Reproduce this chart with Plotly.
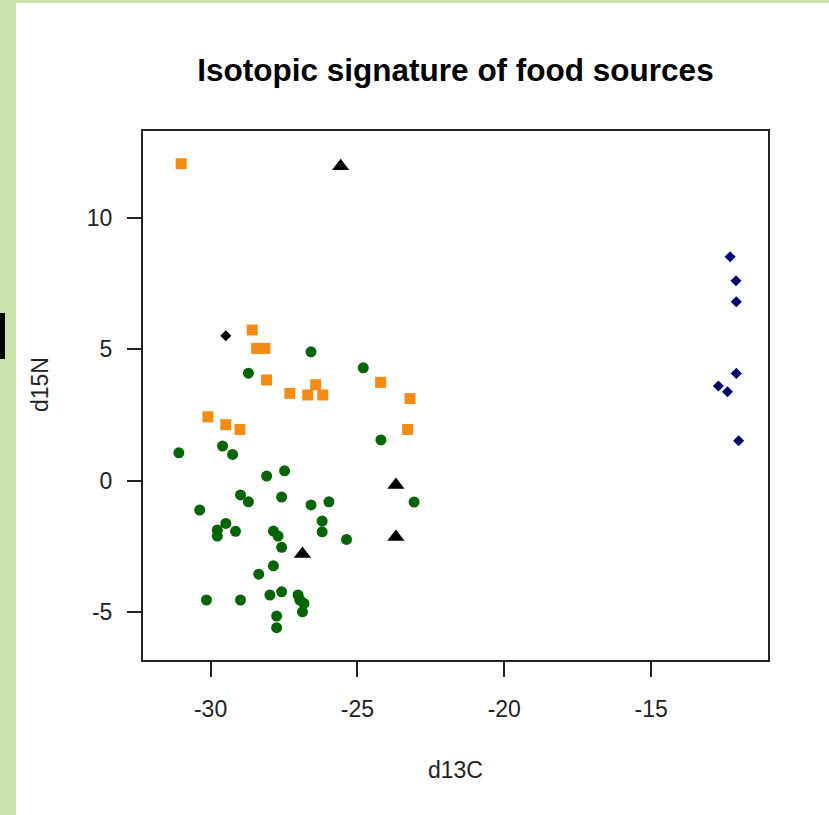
import plotly.graph_objects as go

# d13C / d15N values per food-source group
orange_d13c = [-31.0, -28.58, -28.43, -28.15, -28.09, -27.30, -26.42, -26.69, -26.18,
               -24.21, -23.21, -30.09, -29.48, -29.0, -23.29]
orange_d15n = [12.05, 5.73, 5.03, 5.03, 3.83, 3.32, 3.65, 3.26, 3.26,
               3.74, 3.12, 2.43, 2.13, 1.95, 1.95]

green_d13c = [-26.58, -28.71, -24.80, -24.20, -31.08, -29.59, -29.25, -28.09, -27.48,
              -28.98, -28.71, -27.58, -26.58, -25.97, -23.07, -30.37, -29.48, -29.77,
              -29.77, -29.15, -26.20, -26.20, -27.86, -27.70, -27.58, -25.37, -27.86,
              -28.36, -30.14, -28.98, -27.98, -27.58, -27.02, -26.96, -26.82, -26.87,
              -27.75, -27.75]
green_d15n = [4.90, 4.09, 4.29, 1.55, 1.06, 1.32, 1.00, 0.18, 0.38,
              -0.54, -0.80, -0.62, -0.92, -0.80, -0.81, -1.11, -1.62, -1.87,
              -2.10, -1.92, -1.53, -1.94, -1.91, -2.10, -2.53, -2.23, -3.23,
              -3.55, -4.53, -4.53, -4.34, -4.22, -4.34, -4.53, -4.66, -4.98,
              -5.14, -5.58]

tri_d13c = [-25.57, -23.69, -23.69, -26.87]
tri_d15n = [11.95, -0.16, -2.14, -2.78]

dia_d13c = [-29.48]
dia_d15n = [5.51]

blue_d13c = [-12.31, -12.11, -12.10, -12.10, -12.71, -12.40, -12.02]
blue_d15n = [8.51, 7.60, 6.80, 4.08, 3.60, 3.38, 1.52]

x_ticks = [-30, -25, -20, -15]
x_labels = ["-30", "-25", "-20", "-15"]
y_ticks = [-5, 0, 5, 10]
y_labels = ["-5", "0", "5", "10"]

W, H = 829, 815
ML, MR, MT, MB = 143, 61, 131, 155
PW, PH = W - ML - MR, H - MT - MB


def px(p):
    return (p - ML) / PW


def py(p):
    return (H - MB - p) / PH


fig = go.Figure()

fig.add_trace(go.Scatter(x=green_d13c, y=green_d15n, mode="markers",
                         marker=dict(symbol="circle", size=11, color="#056405")))
fig.add_trace(go.Scatter(x=orange_d13c, y=orange_d15n, mode="markers",
                         marker=dict(symbol="square", size=11, color="#F48B14")))
fig.add_trace(go.Scatter(x=tri_d13c, y=tri_d15n, mode="markers",
                         marker=dict(symbol="triangle-up", size=15, color="black")))
fig.add_trace(go.Scatter(x=dia_d13c, y=dia_d15n, mode="markers",
                         marker=dict(symbol="diamond", size=8.5, color="black")))
fig.add_trace(go.Scatter(x=blue_d13c, y=blue_d15n, mode="markers",
                         marker=dict(symbol="diamond", size=8.5, color="#00006E")))

font = "Liberation Sans, Arial, sans-serif"

fig.update_layout(
    width=W, height=H,
    margin=dict(l=ML, r=MR, t=MT, b=MB),
    paper_bgcolor="white", plot_bgcolor="white",
    showlegend=False,
    font=dict(family=font, size=23, color="#222"),
    title=dict(text="<b>Isotopic signature of food sources</b>",
               x=0.5, xref="paper", xanchor="center",
               y=1 - 70 / H, yref="container", yanchor="middle",
               font=dict(family=font, size=31.5, color="black")),
    xaxis=dict(range=[-32.30, -11.02], tickvals=x_ticks, ticktext=x_labels,
               showgrid=False, zeroline=False,
               showline=True, mirror=True, linecolor="#222", linewidth=2,
               ticks="outside", ticklen=15, tickwidth=2, tickcolor="#222",
               ticklabelstandoff=12),
    yaxis=dict(range=[-6.81, 13.29], tickvals=y_ticks, ticktext=y_labels,
               showgrid=False, zeroline=False,
               showline=True, mirror=True, linecolor="#222", linewidth=2,
               ticks="outside", ticklen=14, tickwidth=2, tickcolor="#222",
               ticklabelstandoff=10),
    annotations=[
        dict(text="d13C", xref="paper", yref="paper", x=px(455), y=py(770),
             xanchor="center", yanchor="middle", showarrow=False,
             font=dict(size=23, color="#222")),
        dict(text="d15N", xref="paper", yref="paper", x=px(40), y=py(385),
             xanchor="center", yanchor="middle", showarrow=False, textangle=-90,
             font=dict(size=23, color="#222")),
    ],
    shapes=[
        dict(type="rect", xref="paper", yref="paper", layer="above",
             x0=px(0), x1=px(16), y0=py(H), y1=py(0),
             fillcolor="#C8E4AA", line=dict(width=0)),
        dict(type="rect", xref="paper", yref="paper", layer="above",
             x0=px(0), x1=px(W), y0=py(3), y1=py(0),
             fillcolor="#C8E4AA", line=dict(width=0)),
        dict(type="rect", xref="paper", yref="paper", layer="above",
             x0=px(0), x1=px(5), y0=py(359), y1=py(313),
             fillcolor="black", line=dict(width=0)),
    ],
)

fig.write_html("out.html")
